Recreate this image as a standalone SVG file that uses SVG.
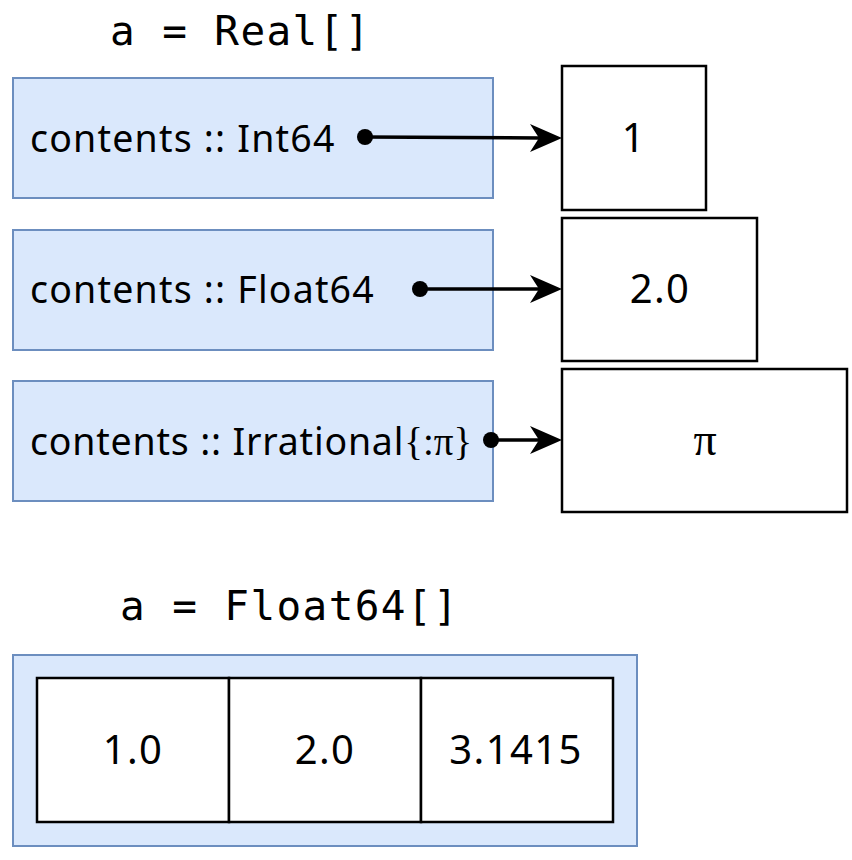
<svg xmlns="http://www.w3.org/2000/svg" width="852" height="860" viewBox="0 0 852 860">
<style>
.blue{fill:#dae8fc;stroke:#6c8ebf;stroke-width:2}
.cell{fill:#ffffff;stroke:#000000;stroke-width:2.5}
.lbl{font-family:"Noto Sans","Open Sans",sans-serif;font-size:37.5px;letter-spacing:1.2px;fill:#000}
.val{font-family:"Noto Sans","Open Sans",sans-serif;font-size:40px;letter-spacing:1.4px;fill:#000;text-anchor:middle}
.mono{font-family:"DejaVu Sans Mono","Liberation Mono",monospace;font-size:41px;letter-spacing:1.4px;fill:#000}
.serif{font-family:"Liberation Serif","DejaVu Serif",serif;font-size:39px;letter-spacing:0}
.pi{font-family:"Liberation Serif","DejaVu Serif",serif;font-size:46px;fill:#000;text-anchor:middle}
.conn{stroke:#000;stroke-width:3.5;fill:none}
</style>
<rect width="852" height="860" fill="#ffffff"/>
<text class="mono" x="110" y="45">a = Real[]</text>
<text class="mono" x="120" y="620">a = Float64[]</text>

<g id="field1"><rect class="blue" x="13" y="78" width="480" height="120"/><text class="lbl" x="30" y="152">contents :: Int64</text></g>
<g id="field2"><rect class="blue" x="13" y="230" width="480" height="120"/><text class="lbl" x="30" y="303">contents :: Float64</text></g>
<g id="field3"><rect class="blue" x="13" y="381" width="480" height="120"/><text class="lbl" x="30" y="455" style="letter-spacing:0.8px">contents :: Irrational<tspan class="serif">{:π}</tspan></text></g>

<g id="value1"><rect class="cell" x="562" y="66" width="144" height="144"/><text class="val" x="634" y="152">1</text></g>
<g id="value2"><rect class="cell" x="562" y="218" width="195" height="143"/><text class="val" x="660" y="303">2.0</text></g>
<g id="value3"><rect class="cell" x="562" y="369" width="285" height="143"/><text class="pi" x="705" y="455">π</text></g>

<g id="array">
<rect class="blue" x="13" y="655" width="624" height="191"/>
<rect class="cell" x="37" y="678" width="192" height="144"/>
<rect class="cell" x="229" y="678" width="192" height="144"/>
<rect class="cell" x="421" y="678" width="192" height="144"/>
<text class="val" x="133" y="764">1.0</text>
<text class="val" x="325" y="764">2.0</text>
<text class="val" x="516" y="764">3.1415</text>
</g>

<g id="connectors">
<circle cx="365" cy="137" r="8"/>
<line class="conn" x1="365" y1="137" x2="540" y2="138"/>
<path d="M562,138 L530,124 L539,138 L530,152 Z"/>
<circle cx="420" cy="289" r="8"/>
<line class="conn" x1="420" y1="289" x2="540" y2="289"/>
<path d="M562,289 L530,275 L539,289 L530,303 Z"/>
<circle cx="491" cy="440" r="8"/>
<line class="conn" x1="491" y1="440" x2="540" y2="440"/>
<path d="M562,440 L530,426 L539,440 L530,454 Z"/>
</g>
</svg>
